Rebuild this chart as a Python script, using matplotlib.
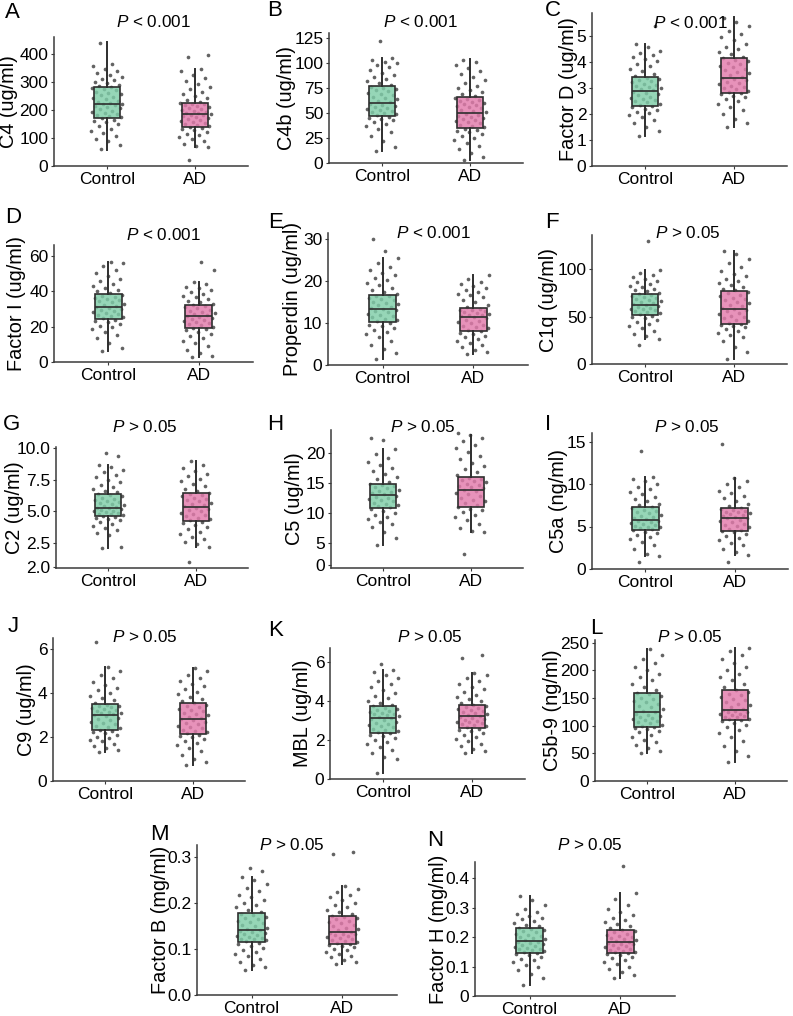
import numpy as np
import matplotlib.pyplot as plt
from matplotlib.colors import to_rgba

plt.rcParams['font.family'] = ['Liberation Sans', 'DejaVu Sans']
plt.rcParams['mathtext.fontset'] = 'custom'
plt.rcParams['mathtext.rm'] = 'Liberation Sans'
plt.rcParams['mathtext.it'] = 'Liberation Sans:italic'

groups = ['Control', 'AD']
box_colors = ['#7fcda8', '#e27aab']

# box stats per group: whisker low, q1, median, q3, whisker high
c4_box = [[58, 172, 223, 282, 444], [68, 141, 185, 226, 346]]
c4_pts = [[62, 75, 88, 98, 108, 118, 126, 134, 142, 150, 156, 162, 166, 170,
           174, 178, 182, 186, 190, 194, 198, 202, 206, 210, 214, 217, 220, 222,
           225, 229, 233, 238, 242, 247, 252, 256, 261, 266, 270, 274, 278, 281,
           285, 290, 295, 300, 306, 312, 318, 325, 332, 340, 348, 356, 364, 440],
          [20, 68, 72, 80, 88, 96, 103, 110, 116, 122, 128, 133, 137, 140,
           143, 146, 150, 154, 157, 161, 165, 168, 172, 175, 178, 181, 183, 185,
           188, 191, 194, 197, 200, 204, 207, 210, 214, 217, 220, 223, 225,
           230, 236, 242, 250, 258, 266, 274, 282, 292, 302, 314, 326, 338, 346, 390, 395]]

c4b_box = [[12, 47, 60, 77, 105], [3, 35, 50, 66, 104]]
c4b_pts = [[12, 16, 22, 27, 31, 34, 37, 39, 41, 43, 44, 45, 46,
            48, 49, 50, 51, 52, 53, 54, 55, 56, 57, 58, 59,
            61, 62, 64, 65, 66, 68, 69, 70, 72, 73, 74, 75, 76,
            78, 80, 82, 84, 86, 88, 90, 93, 96, 98, 100, 101, 103, 105, 122],
           [3, 6, 10, 14, 17, 20, 23, 25, 27, 29, 31, 32, 33, 34,
            36, 37, 38, 40, 41, 42, 43, 44, 45, 46, 47, 48, 49,
            51, 52, 53, 55, 56, 57, 58, 59, 60, 61, 62, 63, 64, 65,
            67, 69, 71, 73, 75, 77, 80, 83, 86, 89, 92, 95, 98, 101, 103]]

fd_box = [[1.15, 2.33, 2.89, 3.43, 4.72], [1.5, 2.83, 3.41, 4.16, 5.75]]
fd_pts = [[1.15, 1.35, 1.5, 1.65, 1.78, 1.88, 1.96, 2.04, 2.1, 2.16, 2.21, 2.26, 2.3,
           2.36, 2.4, 2.45, 2.5, 2.54, 2.59, 2.63, 2.68, 2.72, 2.77, 2.81, 2.86,
           2.92, 2.96, 3.0, 3.05, 3.1, 3.14, 3.18, 3.23, 3.27, 3.32, 3.36, 3.41,
           3.48, 3.56, 3.65, 3.75, 3.85, 3.95, 4.05, 4.12, 4.2, 4.28, 4.36, 4.45, 4.58,
           4.7, 5.4],
          [1.5, 1.65, 1.8, 2.0, 2.15, 2.28, 2.4, 2.5, 2.58, 2.65, 2.71, 2.76, 2.81,
           2.86, 2.9, 2.95, 3.0, 3.05, 3.1, 3.15, 3.2, 3.25, 3.3, 3.35, 3.4,
           3.45, 3.51, 3.57, 3.63, 3.69, 3.75, 3.81, 3.87, 3.93, 3.99, 4.05, 4.1, 4.15,
           4.22, 4.3, 4.4, 4.5, 4.6, 4.72, 4.84, 4.96, 5.08, 5.22, 5.38, 5.55, 5.7]]

fi_box = [[6.2, 24.3, 31.3, 38.3, 56.6], [2.8, 19.2, 25.8, 31.9, 45.3]]
fi_pts = [[6.2, 8, 11, 13.5, 15.5, 17, 18.5, 19.5, 20.5, 21.5, 22.3, 23, 23.8,
           24.6, 25.2, 25.8, 26.4, 27, 27.6, 28.2, 28.8, 29.4, 30, 30.6, 31.2,
           31.8, 32.4, 33, 33.6, 34.2, 34.8, 35.4, 36, 36.6, 37.2, 37.8,
           38.8, 39.8, 40.8, 41.8, 43, 44.2, 45.5, 47, 48.5, 50, 52, 54, 56, 56.6],
          [2.8, 3.5, 5, 7, 9, 10.5, 12, 13.5, 14.8, 16, 17, 17.8, 18.6,
           19.4, 20, 20.6, 21.2, 21.8, 22.4, 23, 23.6, 24.2, 24.8, 25.4,
           26, 26.6, 27.2, 27.8, 28.4, 29, 29.6, 30.2, 30.8, 31.4,
           32.2, 33, 33.8, 34.6, 35.5, 36.5, 37.5, 38.5, 39.5, 40.5, 41.5, 42.5, 44, 45.3,
           52, 56.6]]

prop_box = [[1.4, 10.2, 13.4, 16.6, 25.4], [2.6, 8.2, 11.3, 13.6, 21.4]]
prop_pts = [[1.4, 2.8, 3.8, 4.8, 5.8, 6.6, 7.3, 7.9, 8.4, 8.8, 9.2, 9.6, 9.9,
             10.4, 10.7, 11, 11.3, 11.6, 11.9, 12.2, 12.5, 12.8, 13.1, 13.3,
             13.6, 13.9, 14.2, 14.5, 14.8, 15.1, 15.4, 15.7, 16, 16.3, 16.5,
             16.9, 17.4, 17.9, 18.4, 19, 19.6, 20.2, 20.8, 21.4, 22, 22.6, 23.4, 24.2, 25.4,
             27, 30],
            [2.6, 3.0, 3.6, 4.2, 4.8, 5.3, 5.8, 6.2, 6.6, 7, 7.4, 7.7, 8,
             8.4, 8.7, 9, 9.3, 9.6, 9.9, 10.2, 10.5, 10.8, 11.1,
             11.4, 11.6, 11.8, 12, 12.2, 12.4, 12.6, 12.8, 13, 13.2, 13.4,
             13.8, 14.3, 14.9, 15.5, 16.1, 16.6, 17, 17.4, 17.8, 18.3, 18.8, 19.3, 19.8,
             20.5, 21.3]]

c1q_box = [[25.9, 52.1, 61.7, 73.8, 98.6], [5.3, 42.6, 58.2, 76.6, 118.8]]
c1q_pts = [[20, 26, 29, 32, 35, 38, 40, 42, 44, 46, 48, 49.5, 51,
            52.5, 53.5, 54.5, 55.5, 56.5, 57.5, 58.5, 59.5, 60.5, 61.5,
            62.5, 63.5, 64.5, 65.5, 66.5, 67.5, 68.5, 69.5, 70.5, 71.5, 72.5, 73.5,
            75, 76.5, 78, 79.5, 81, 82.5, 84, 86, 88, 90, 92, 94, 96, 98.6, 130],
           [5.3, 13, 18, 24, 28, 31, 33, 35, 37, 38.5, 40, 41.5, 42.5,
            43.5, 45, 46.5, 48, 49.5, 51, 52.5, 54, 55.5, 57, 58,
            59.5, 61, 62.5, 64, 65.5, 67, 68.5, 70, 71.5, 73, 74.5, 76,
            77.5, 79, 81, 83, 85, 87.5, 90, 92.5, 95, 98, 102, 106, 111, 116, 118.8]]

c2_box = [[2.08, 4.6, 5.29, 6.4, 8.67], [2.2, 4.25, 5.36, 6.48, 8.99]]
c2_pts = [[2.08, 2.15, 3.1, 3.3, 3.5, 3.7, 3.85, 4.0, 4.15, 4.3, 4.4, 4.5, 4.58,
           4.64, 4.7, 4.76, 4.82, 4.88, 4.94, 5.0, 5.06, 5.12, 5.18, 5.24, 5.28,
           5.34, 5.42, 5.5, 5.58, 5.66, 5.74, 5.82, 5.9, 6.0, 6.1, 6.2, 6.3, 6.38,
           6.5, 6.65, 6.8, 6.95, 7.1, 7.3, 7.5, 7.7, 7.9, 8.1, 8.3, 8.5, 8.65, 9.4, 9.6],
          [0.97, 2.2, 2.4, 2.6, 2.8, 3.0, 3.2, 3.4, 3.6, 3.75, 3.9, 4.05, 4.2,
           4.3, 4.4, 4.5, 4.6, 4.7, 4.8, 4.9, 5.0, 5.1, 5.2, 5.3,
           5.4, 5.5, 5.6, 5.7, 5.8, 5.9, 6.0, 6.1, 6.2, 6.3, 6.4, 6.46,
           6.6, 6.8, 7.0, 7.2, 7.4, 7.6, 7.8, 8.0, 8.2, 8.45, 8.7, 8.99]]

c5_box = [[4.55, 10.8, 13.0, 14.9, 20.7], [6.8, 10.9, 13.8, 16.0, 23.1]]
c5_pts = [[4.55, 5.8, 6.8, 7.6, 8.1, 8.5, 8.9, 9.3, 9.7, 10.0, 10.3, 10.6,
           10.9, 11.1, 11.3, 11.5, 11.7, 11.9, 12.1, 12.3, 12.5, 12.7, 12.9,
           13.1, 13.3, 13.5, 13.7, 13.9, 14.1, 14.3, 14.5, 14.7, 14.85,
           15.2, 15.6, 16, 16.5, 17, 17.5, 18, 18.6, 19.2, 19.9, 20.7, 22.3, 22.6],
          [3.1, 6.8, 7.0, 7.5, 8.2, 8.8, 9.3, 9.7, 10.1, 10.4, 10.7,
           11.0, 11.3, 11.6, 11.9, 12.2, 12.5, 12.8, 13.1, 13.4, 13.7,
           13.9, 14.1, 14.3, 14.5, 14.7, 14.9, 15.1, 15.3, 15.5, 15.7, 15.9,
           16.3, 16.8, 17.3, 17.8, 18.4, 19, 19.6, 20.2, 20.8, 21.4, 22, 22.6, 23.1, 23.4]]

c5a_box = [[1.5, 4.6, 5.8, 7.3, 10.8], [1.7, 4.5, 6.0, 7.2, 10.75]]
c5a_pts = [[0.8, 1.5, 1.8, 2.3, 2.8, 3.2, 3.5, 3.8, 4.0, 4.2, 4.4, 4.55,
            4.7, 4.8, 4.9, 5.0, 5.1, 5.2, 5.3, 5.4, 5.5, 5.6, 5.7,
            5.9, 6.0, 6.1, 6.25, 6.4, 6.55, 6.7, 6.85, 7.0, 7.15, 7.28,
            7.5, 7.7, 7.95, 8.2, 8.5, 8.8, 9.1, 9.4, 9.7, 10.0, 10.3, 10.6, 10.8, 13.9],
           [0.8, 1.7, 2.0, 2.4, 2.8, 3.1, 3.4, 3.7, 3.9, 4.1, 4.3, 4.45,
            4.6, 4.75, 4.9, 5.05, 5.2, 5.35, 5.5, 5.65, 5.8, 5.95,
            6.05, 6.15, 6.25, 6.35, 6.45, 6.55, 6.65, 6.75, 6.85, 6.95, 7.05, 7.15,
            7.4, 7.7, 8.0, 8.3, 8.6, 8.9, 9.2, 9.6, 10.0, 10.4, 10.75, 14.7]]

c9_box = [[1.32, 2.3, 3.0, 3.48, 5.2], [0.74, 2.12, 2.82, 3.54, 5.12]]
c9_pts = [[1.32, 1.4, 1.5, 1.6, 1.7, 1.8, 1.88, 1.95, 2.02, 2.1, 2.16, 2.22, 2.28,
           2.34, 2.4, 2.46, 2.52, 2.58, 2.64, 2.7, 2.76, 2.82, 2.88, 2.94, 2.99,
           3.03, 3.07, 3.11, 3.15, 3.19, 3.23, 3.27, 3.31, 3.35, 3.39, 3.43, 3.47,
           3.56, 3.66, 3.76, 3.88, 4.0, 4.12, 4.25, 4.38, 4.52, 4.66, 4.82, 5.0, 5.2, 6.3],
          [0.74, 0.85, 1.0, 1.2, 1.38, 1.52, 1.64, 1.74, 1.83, 1.91, 1.98, 2.05, 2.1,
           2.16, 2.22, 2.28, 2.34, 2.4, 2.46, 2.52, 2.58, 2.64, 2.7, 2.76, 2.81,
           2.87, 2.93, 2.99, 3.05, 3.11, 3.17, 3.23, 3.29, 3.35, 3.41, 3.47, 3.53,
           3.62, 3.72, 3.83, 3.94, 4.05, 4.17, 4.3, 4.43, 4.56, 4.7, 4.84, 4.98, 5.12]]

mbl_box = [[0.3, 2.35, 3.14, 3.74, 5.6], [1.32, 2.59, 3.21, 3.8, 5.4]]
mbl_pts = [[0.3, 1.0, 1.15, 1.35, 1.5, 1.65, 1.78, 1.9, 2.0, 2.1, 2.18, 2.26, 2.33,
            2.4, 2.46, 2.52, 2.58, 2.64, 2.7, 2.76, 2.82, 2.88, 2.94, 3.0, 3.06, 3.12,
            3.18, 3.22, 3.26, 3.3, 3.35, 3.4, 3.45, 3.5, 3.55, 3.6, 3.65, 3.72,
            3.8, 3.9, 4.0, 4.12, 4.25, 4.4, 4.55, 4.7, 4.85, 5.0, 5.15, 5.3, 5.45, 5.6, 5.9],
           [1.32, 1.42, 1.55, 1.68, 1.8, 1.92, 2.04, 2.15, 2.26, 2.36, 2.45, 2.52, 2.58,
            2.64, 2.69, 2.74, 2.79, 2.84, 2.89, 2.94, 2.99, 3.04, 3.09, 3.14, 3.19,
            3.24, 3.29, 3.34, 3.39, 3.44, 3.49, 3.54, 3.59, 3.64, 3.69, 3.74, 3.79,
            3.88, 3.98, 4.08, 4.2, 4.32, 4.45, 4.58, 4.72, 4.86, 5.0, 5.15, 5.3, 5.4,
            6.2, 6.35]]

c5b9_box = [[50, 98, 125, 160, 238], [35, 110, 128, 165, 240]]
c5b9_pts = [[50, 55, 60, 65, 70, 75, 80, 84, 88, 91, 94, 96, 98,
             100, 102, 104, 106, 108, 110, 112, 114, 116, 118, 120, 122, 124,
             127, 130, 133, 136, 139, 142, 145, 148, 151, 154, 157, 160,
             165, 170, 176, 182, 188, 194, 200, 206, 213, 220, 228, 238],
            [35, 45, 55, 64, 72, 80, 87, 93, 98, 102, 105, 108, 110,
             112, 113, 115, 116, 118, 119, 121, 122, 124, 125, 127, 128,
             131, 134, 137, 140, 143, 146, 149, 152, 155, 158, 161, 164,
             170, 176, 182, 188, 194, 200, 207, 214, 221, 228, 235, 240]]

fb_box = [[0.055, 0.115, 0.141, 0.178, 0.258], [0.068, 0.112, 0.138, 0.173, 0.238]]
fb_pts = [[0.055, 0.06, 0.066, 0.072, 0.078, 0.084, 0.089, 0.094, 0.099, 0.103, 0.107,
           0.111, 0.114, 0.117, 0.119, 0.121, 0.123, 0.125, 0.127, 0.129, 0.131, 0.133,
           0.135, 0.137, 0.139, 0.141, 0.144, 0.147, 0.15, 0.153, 0.156, 0.159, 0.162,
           0.165, 0.168, 0.171, 0.174, 0.177, 0.181, 0.186, 0.191, 0.196, 0.201, 0.207,
           0.213, 0.219, 0.226, 0.234, 0.242, 0.25, 0.258, 0.27, 0.276],
          [0.068, 0.072, 0.077, 0.082, 0.086, 0.09, 0.094, 0.098, 0.101, 0.104, 0.107,
           0.11, 0.112, 0.114, 0.116, 0.118, 0.12, 0.122, 0.124, 0.126, 0.128, 0.13,
           0.132, 0.134, 0.136, 0.138, 0.141, 0.144, 0.147, 0.15, 0.153, 0.156, 0.159,
           0.162, 0.165, 0.168, 0.171, 0.173, 0.177, 0.181, 0.186, 0.191, 0.196, 0.201,
           0.207, 0.213, 0.219, 0.225, 0.231, 0.238, 0.308, 0.312]]

fh_box = [[0.039, 0.147, 0.186, 0.231, 0.341], [0.06, 0.145, 0.185, 0.225, 0.35]]
fh_pts = [[0.039, 0.06, 0.075, 0.087, 0.097, 0.106, 0.114, 0.121, 0.127, 0.133, 0.138,
           0.142, 0.146, 0.149, 0.152, 0.155, 0.158, 0.161, 0.164, 0.167, 0.17, 0.173,
           0.176, 0.179, 0.182, 0.185, 0.189, 0.193, 0.197, 0.2, 0.204, 0.208, 0.212,
           0.216, 0.22, 0.224, 0.228, 0.231, 0.236, 0.242, 0.248, 0.254, 0.26, 0.266,
           0.272, 0.278, 0.285, 0.295, 0.31, 0.325, 0.341],
          [0.06, 0.07, 0.08, 0.09, 0.1, 0.108, 0.115, 0.122, 0.128, 0.133, 0.138, 0.142,
           0.145, 0.148, 0.151, 0.154, 0.157, 0.16, 0.163, 0.166, 0.169, 0.172, 0.175,
           0.178, 0.181, 0.184, 0.188, 0.191, 0.194, 0.197, 0.2, 0.204, 0.208, 0.212,
           0.216, 0.22, 0.224, 0.23, 0.236, 0.243, 0.25, 0.258, 0.266, 0.275, 0.285,
           0.296, 0.31, 0.33, 0.35, 0.44]]

P001 = r'$\mathit{P}$ < 0.001'
P05 = r'$\mathit{P}$ > 0.05'

W, H = 793, 1016

def rect(l, t, r, b):
    return [l / W, 1 - b / H, (r - l) / W, (b - t) / H]

# letter, ylabel, title, box, points, yticks, yticklabels, ylim,
# axes (l, t, r, b) px, title (x, y), letter (x, y), ylabel x
panels = [
    ('A', 'C4 (ug/ml)', P001, c4_box, c4_pts, [0, 100, 200, 300, 400], None, (0, 461),
     (54, 37, 248, 166), (153, 22), (5, 12), 9),
    ('B', 'C4b (ug/ml)', P001, c4b_box, c4b_pts, [0, 25, 50, 75, 100, 125], None, (0, 130),
     (329, 33, 523, 163), (420, 22), (267, 11), 287),
    ('C', 'Factor D (ug/ml)', P001, fd_box, fd_pts, [0, 1, 2, 3, 4, 5], None, (0, 5.9),
     (592, 13, 787, 166), (690, 23), (545, 10), 568),
    ('D', 'Factor I (ug/ml)', P001, fi_box, fi_pts, [0, 20, 40, 60], None, (0, 66),
     (54, 245, 253, 362), (163, 235), (5, 217), 17),
    ('E', 'Properdin (ug/ml)', P001, prop_box, prop_pts, [0, 10, 20, 30], None, (0, 31.4),
     (328, 233, 528, 365), (433, 233), (268, 222), 293),
    ('F', 'C1q (ug/ml)', P05, c1q_box, c1q_pts, [0, 50, 100], None, (0, 136),
     (592, 235, 787, 364), (688, 233), (545, 222), 549),
    ('G', 'C2 (ug/ml)', P05, c2_box, c2_pts, [0.6, 2.5, 5, 7.5, 10],
     ['2.0', '2.5', '5.0', '7.5', '10.0'], (0.52, 10.1),
     (56, 447, 248, 568), (145, 427), (3, 425), 15),
    ('H', 'C5 (ug/ml)', P05, c5_box, c5_pts, [1.3, 5, 10, 15, 20],
     ['0', '5', '10', '15', '20'], (0.73, 23.9),
     (331, 430, 523, 568), (423, 427), (267, 425), 295),
    ('I', 'C5a (ng/ml)', P05, c5a_box, c5a_pts, [0, 5, 10, 15], None, (0, 16),
     (592, 433, 788, 569), (687, 427), (545, 425), 558),
    ('J', 'C9 (ug/ml)', P05, c9_box, c9_pts, [0, 2, 4, 6], None, (0, 6.5),
     (53, 638, 245, 781), (145, 637), (8, 627), 27),
    ('K', 'MBL (ug/ml)', P05, mbl_box, mbl_pts, [0, 2, 4, 6], None, (0, 6.7),
     (330, 648, 525, 779), (430, 637), (268, 630), 303),
    ('L', 'C5b-9 (ng/ml)', P05, c5b9_box, c5b9_pts, [0, 50, 100, 150, 200, 250], None,
     (0, 255), (595, 640, 787, 781), (690, 637), (590, 628), 553),
    ('M', 'Factor B (mg/ml)', P05, fb_box, fb_pts, [0, 0.1, 0.2, 0.3],
     ['0.0', '0.1', '0.2', '0.3'], (0, 0.327),
     (197, 845, 397, 995), (292, 845), (150, 835), 160),
    ('N', 'Factor H (mg/ml)', P05, fh_box, fh_pts, [0, 0.1, 0.2, 0.3, 0.4],
     ['0', '0.1', '0.2', '0.3', '0.4'], (0, 0.455),
     (475, 862, 675, 996), (590, 845), (427, 840), 438),
]

fig = plt.figure(figsize=(W / 100, H / 100), dpi=100)
dark = '#2e2e2e'

for (letter, ylab, title, box, pts, yt, ytl, ylim, ax_px, t_xy, l_xy, yl_x) in panels:
    ax = fig.add_axes(rect(*ax_px))
    stats = []
    for b in box:
        stats.append({'whislo': b[0], 'q1': b[1], 'med': b[2], 'q3': b[3], 'whishi': b[4],
                      'fliers': []})
    for i, vals in enumerate(pts):
        n = len(vals)
        offs = ((np.arange(n) * 0.618034 + 0.3) % 1 - 0.5) * 0.36
        ax.scatter(i + 1 + offs, vals, s=7, color='#3c3c3c', alpha=0.8, lw=0, zorder=2)
    bp = ax.bxp(stats, positions=[1, 2], widths=0.3, showcaps=False, showfliers=False,
                patch_artist=True, manage_ticks=False,
                boxprops=dict(edgecolor=dark, linewidth=1.2),
                whiskerprops=dict(color=dark, linewidth=1.4),
                medianprops=dict(color=dark, linewidth=1.2))
    for patch, col in zip(bp['boxes'], box_colors):
        patch.set_facecolor(to_rgba(col, 0.82))
        patch.set_zorder(3)
    for ln in bp['whiskers'] + bp['medians']:
        ln.set_zorder(4)
    ax.set_xlim(0.4, 2.6)
    ax.set_ylim(*ylim)
    ax.set_xticks([1, 2])
    ax.set_xticklabels(groups)
    ax.set_yticks(yt)
    if ytl is not None:
        ax.set_yticklabels(ytl)
    for s in ['top', 'right']:
        ax.spines[s].set_visible(False)
    for s in ['left', 'bottom']:
        ax.spines[s].set_color('#3a3a3a')
        ax.spines[s].set_linewidth(1.1)
    ax.tick_params(axis='both', labelsize=12.5, length=2.5, width=0.8, color='#3a3a3a',
                   pad=1.5)
    ax.patch.set_alpha(0)
    l, t, r, b = ax_px
    fig.text(yl_x / W, 1 - (t + b) / 2 / H, ylab, rotation=90, ha='center', va='center',
             fontsize=14.3)
    fig.text(t_xy[0] / W, 1 - t_xy[1] / H, title, ha='center', va='center', fontsize=12.3)
    fig.text(l_xy[0] / W, 1 - l_xy[1] / H, letter, ha='left', va='center', fontsize=16)

fig.savefig('out.png', dpi=100)
